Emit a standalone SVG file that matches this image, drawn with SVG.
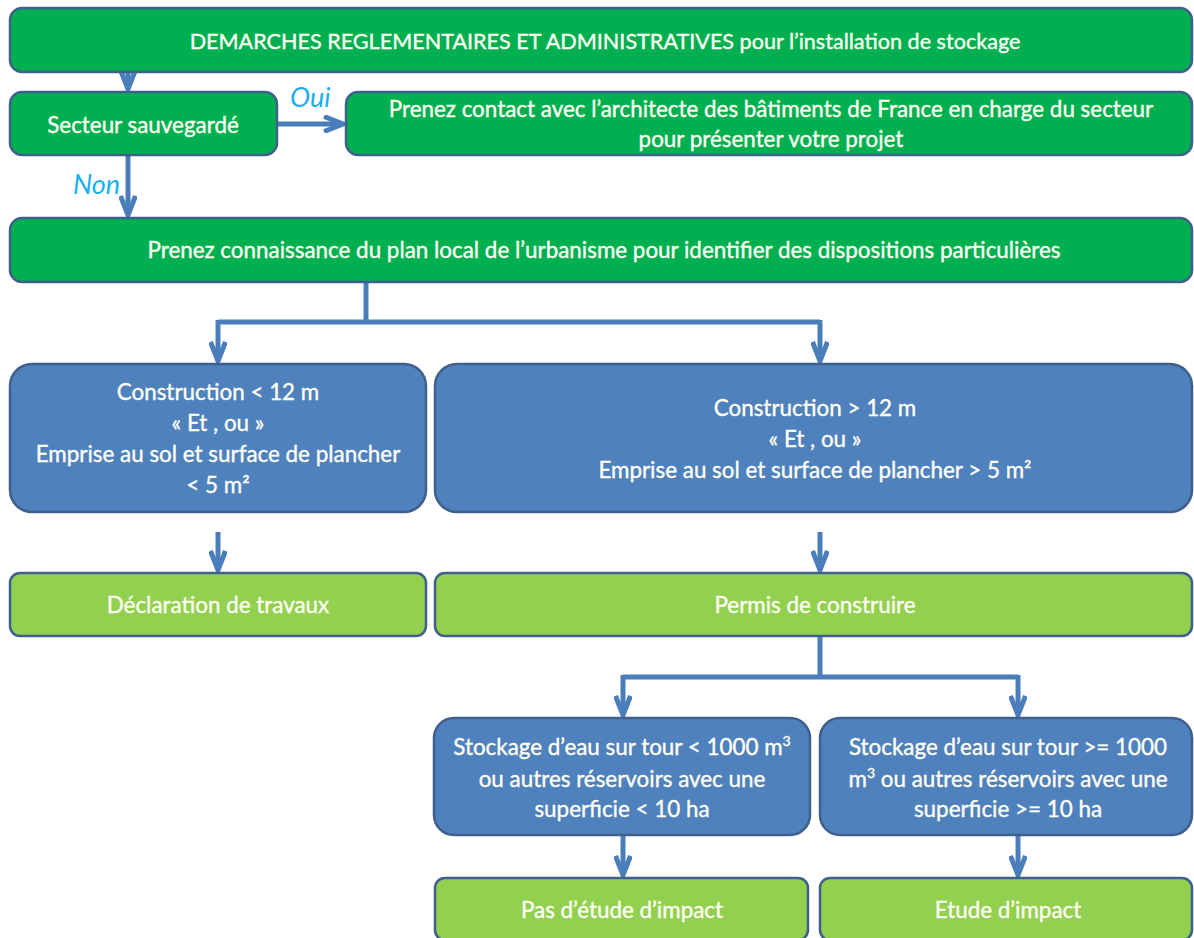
<svg xmlns="http://www.w3.org/2000/svg" width="1194" height="938" viewBox="0 0 1194 938">
<defs>
<style>
.g{fill:#00B050;stroke:#3F5F8C;stroke-width:2.5}
.lg{fill:#92D050;stroke:#3F5F8C;stroke-width:2.5}
.b{fill:#4F81BD;stroke:#3F5F8C;stroke-width:2.5}
text{font-family:Lato,"Open Sans","Liberation Sans",sans-serif;font-size:22.4px;fill:#FFFFF4;stroke:#FFFFF4;stroke-width:0.35;text-anchor:middle}
.t{font-size:21.6px}
.lbl{font-style:italic;fill:#1AAFEF;stroke:none;font-size:27px;text-anchor:start}
.c{fill:none;stroke:#4A7EBB;stroke-width:5}
</style>
<marker id="ah" viewBox="0 0 24 18" refX="21" refY="9" markerWidth="24" markerHeight="18" markerUnits="userSpaceOnUse" orient="auto">
<path d="M2,1.5 L21,9 L2,16.5" fill="none" stroke="#4A7EBB" stroke-width="5" stroke-linejoin="miter"/>
</marker>
</defs>
<g id="connectors" class="c">
<path d="M128,55 V89" marker-end="url(#ah)"/>
<path d="M277,124 H343" marker-end="url(#ah)"/>
<path d="M128,155 V215" marker-end="url(#ah)"/>
<path d="M366,282 V322 M218,322 H820"/>
<path d="M218,320 V361" marker-end="url(#ah)"/>
<path d="M820,320 V361" marker-end="url(#ah)"/>
<path d="M218,532 V570" marker-end="url(#ah)"/>
<path d="M820,532 V570" marker-end="url(#ah)"/>
<path d="M820,636 V677 M623,677 H1018"/>
<path d="M623,675 V715" marker-end="url(#ah)"/>
<path d="M1018,675 V715" marker-end="url(#ah)"/>
<path d="M623,835 V875" marker-end="url(#ah)"/>
<path d="M1018,835 V875" marker-end="url(#ah)"/>
</g>
<g id="n-demarches">
<rect class="g" x="10" y="8" width="1182" height="64" rx="12"/>
<text class="t" x="605" y="49">DEMARCHES REGLEMENTAIRES ET ADMINISTRATIVES pour l’installation de stockage</text>
</g>
<g id="n-secteur">
<rect class="g" x="10" y="92" width="267" height="63" rx="12"/>
<text x="143" y="133">Secteur sauvegardé</text>
</g>
<g id="n-contact">
<rect class="g" x="346" y="92" width="846" height="63" rx="12"/>
<text x="771" y="117">Prenez contact avec l’architecte des bâtiments de France en charge du secteur</text>
<text x="771" y="147">pour présenter votre projet</text>
</g>
<g id="labels">
<text class="lbl" x="290" y="107">Oui</text>
<text class="lbl" x="73" y="194">Non</text>
</g>
<g id="n-plu">
<rect class="g" x="10" y="218" width="1182" height="64" rx="12"/>
<text x="604" y="258">Prenez connaissance du plan local de l’urbanisme pour identifier des dispositions particulières</text>
</g>
<g id="n-constr-small">
<rect class="b" x="10" y="364" width="416" height="148" rx="22"/>
<text x="218" y="400">Construction &lt; 12 m</text>
<text x="218" y="431">« Et , ou »</text>
<text x="218" y="462">Emprise au sol et surface de plancher</text>
<text x="218" y="493">&lt; 5 m²</text>
</g>
<g id="n-constr-large">
<rect class="b" x="435" y="364" width="757" height="148" rx="22"/>
<text x="815" y="416">Construction &gt; 12 m</text>
<text x="815" y="447">« Et , ou »</text>
<text x="815" y="478">Emprise au sol et surface de plancher  &gt; 5 m²</text>
</g>
<g id="n-declaration">
<rect class="lg" x="10" y="573" width="416" height="63" rx="10"/>
<text x="218" y="613">Déclaration de travaux</text>
</g>
<g id="n-permis">
<rect class="lg" x="435" y="573" width="757" height="63" rx="10"/>
<text x="815" y="613">Permis de construire</text>
</g>
<g id="n-stock-small">
<rect class="b" x="434" y="718" width="376" height="117" rx="20"/>
<text x="622" y="755">Stockage d’eau sur tour &lt; 1000 m<tspan font-size="14" dy="-9">3</tspan></text>
<text x="622" y="787">ou autres réservoirs avec une</text>
<text x="622" y="817">superficie &lt; 10 ha</text>
</g>
<g id="n-stock-large">
<rect class="b" x="820" y="718" width="372" height="117" rx="20"/>
<text x="1008" y="755">Stockage d’eau sur tour &gt;= 1000</text>
<text x="1008" y="787">m<tspan font-size="14" dy="-9">3</tspan><tspan dy="9"> ou autres réservoirs avec une</tspan></text>
<text x="1008" y="817">superficie &gt;= 10 ha</text>
</g>
<g id="n-pas-etude">
<rect class="lg" x="435" y="878" width="373" height="62" rx="10"/>
<text x="622" y="918">Pas d’étude d’impact</text>
</g>
<g id="n-etude">
<rect class="lg" x="820" y="878" width="372" height="62" rx="10"/>
<text x="1008" y="918">Etude d’impact</text>
</g>
</svg>
